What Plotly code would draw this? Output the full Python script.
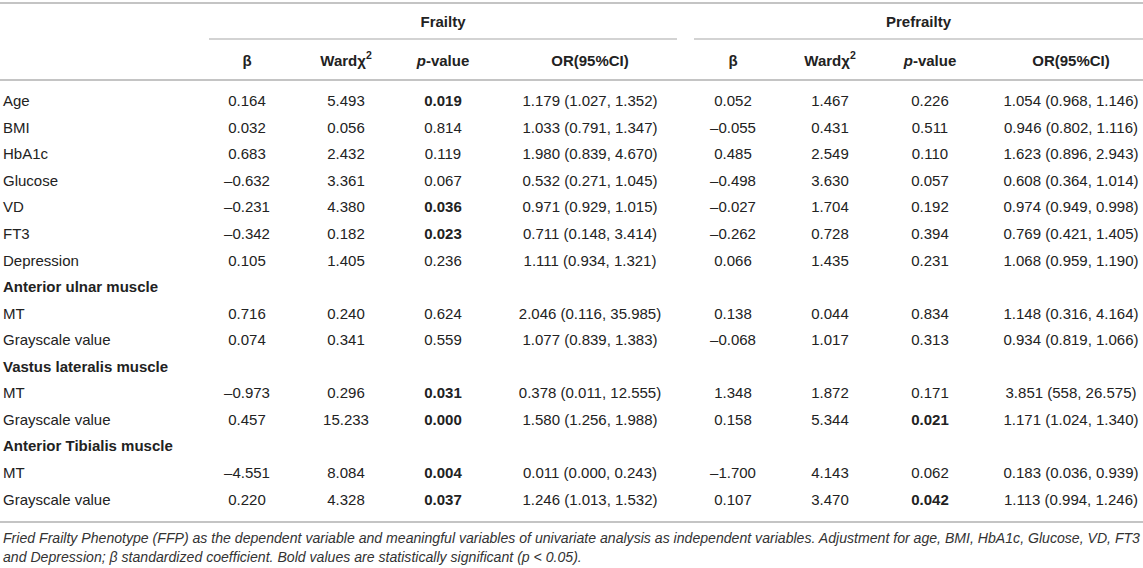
import plotly.graph_objects as go

# ---------------- data ----------------
row_labels = ["Age", "BMI", "HbA1c", "Glucose", "VD", "FT3", "Depression",
              "Anterior ulnar muscle", "MT", "Grayscale value",
              "Vastus lateralis muscle", "MT", "Grayscale value",
              "Anterior Tibialis muscle", "MT", "Grayscale value"]
section_rows = ["Anterior ulnar muscle", "Vastus lateralis muscle", "Anterior Tibialis muscle"]

frailty_beta = [0.164, 0.032, 0.683, -0.632, -0.231, -0.342, 0.105, None,
                0.716, 0.074, None, -0.973, 0.457, None, -4.551, 0.220]
frailty_wald = [5.493, 0.056, 2.432, 3.361, 4.380, 0.182, 1.405, None,
                0.240, 0.341, None, 0.296, 15.233, None, 8.084, 4.328]
frailty_p = [0.019, 0.814, 0.119, 0.067, 0.036, 0.023, 0.236, None,
             0.624, 0.559, None, 0.031, 0.000, None, 0.004, 0.037]
frailty_or = ["1.179 (1.027, 1.352)", "1.033 (0.791, 1.347)", "1.980 (0.839, 4.670)",
              "0.532 (0.271, 1.045)", "0.971 (0.929, 1.015)", "0.711 (0.148, 3.414)",
              "1.111 (0.934, 1.321)", None, "2.046 (0.116, 35.985)", "1.077 (0.839, 1.383)",
              None, "0.378 (0.011, 12.555)", "1.580 (1.256, 1.988)", None,
              "0.011 (0.000, 0.243)", "1.246 (1.013, 1.532)"]

prefrailty_beta = [0.052, -0.055, 0.485, -0.498, -0.027, -0.262, 0.066, None,
                   0.138, -0.068, None, 1.348, 0.158, None, -1.700, 0.107]
prefrailty_wald = [1.467, 0.431, 2.549, 3.630, 1.704, 0.728, 1.435, None,
                   0.044, 1.017, None, 1.872, 5.344, None, 4.143, 3.470]
prefrailty_p = [0.226, 0.511, 0.110, 0.057, 0.192, 0.394, 0.231, None,
                0.834, 0.313, None, 0.171, 0.021, None, 0.062, 0.042]
prefrailty_or = ["1.054 (0.968, 1.146)", "0.946 (0.802, 1.116)", "1.623 (0.896, 2.943)",
                 "0.608 (0.364, 1.014)", "0.974 (0.949, 0.998)", "0.769 (0.421, 1.405)",
                 "1.068 (0.959, 1.190)", None, "1.148 (0.316, 4.164)", "0.934 (0.819, 1.066)",
                 None, "3.851 (558, 26.575)", "1.171 (1.024, 1.340)", None,
                 "0.183 (0.036, 0.939)", "1.113 (0.994, 1.246)"]

group_titles = ["Frailty", "Prefrailty"]
column_titles = ["β", "Wardχ<sup>2</sup>", "<i>p</i>-value", "OR(95%CI)"]
significance = 0.05

footnote_lines = [
    "Fried Frailty Phenotype (FFP) as the dependent variable and meaningful variables of univariate analysis as independent variables. Adjustment for age, BMI, HbA1c, Glucose, VD, FT3",
    "and Depression; β standardized coefficient. Bold values are statistically significant (p < 0.05).",
]

# ---------------- layout constants ----------------
W, H = 1143, 568
FONT = "Liberation Sans, Arial, Helvetica, sans-serif"
TXT = "#222222"
LINE = "#c4c4c4"
FS = 15
row_y0, row_step = 102.5, 26.55
label_x = 3
frailty_x = [247, 346, 443, 590]
prefrailty_x = [733, 830, 930, 1071]
group_y, header_y = 23, 62


def fmt(v):
    return f"{v:.3f}".replace("-", "–")


def fmt_p(v):
    s = fmt(v)
    return f"<b>{s}</b>" if v < significance else s


row_ys = [row_y0 + i * row_step for i in range(len(row_labels))]

fig = go.Figure()


def add_text(xs, ys, texts, pos="middle center", size=FS, color=TXT):
    fig.add_trace(go.Scatter(
        x=xs, y=ys, text=texts, mode="text", textposition=pos,
        textfont=dict(family=FONT, size=size, color=color),
        hoverinfo="skip", showlegend=False, cliponaxis=False))


def add_column(x, values, formatter):
    pts = [(y, formatter(v)) for y, v in zip(row_ys, values) if v is not None]
    add_text([x] * len(pts), [p[0] for p in pts], [p[1] for p in pts])


# row labels
add_text([label_x] * len(row_labels), row_ys,
         [f"<b>{l}</b>" if l in section_rows else l for l in row_labels],
         pos="middle right")

# value columns
for xs, beta, wald, p, orr in [
        (frailty_x, frailty_beta, frailty_wald, frailty_p, frailty_or),
        (prefrailty_x, prefrailty_beta, prefrailty_wald, prefrailty_p, prefrailty_or)]:
    add_column(xs[0], beta, fmt)
    add_column(xs[1], wald, fmt)
    add_column(xs[2], p, fmt_p)
    add_column(xs[3], orr, str)
    add_text(xs, [header_y] * 4, [f"<b>{t}</b>" for t in column_titles])

# group titles
group_spans = [(209, 677), (694, W)]
add_text([(a + b) / 2 for a, b in group_spans], [group_y] * 2,
         [f"<b>{g}</b>" for g in group_titles])

# footnote
add_text([label_x] * 2, [539, 558], [f"<i>{t}</i>" for t in footnote_lines],
         pos="middle right", size=14.1, color="#333333")

shapes = [
    dict(type="line", x0=0, x1=W, y0=3, y1=3, line=dict(color=LINE, width=2)),
    dict(type="line", x0=0, x1=W, y0=80, y1=80, line=dict(color=LINE, width=2)),
    dict(type="line", x0=0, x1=W, y0=522, y1=522, line=dict(color=LINE, width=2)),
]
for a, b in group_spans:
    shapes.append(dict(type="line", x0=a, x1=b, y0=39, y1=39,
                       line=dict(color=LINE, width=1.3)))
for s in shapes:
    s.update(xref="x", yref="y", layer="below")

fig.update_layout(
    width=W, height=H, margin=dict(l=0, r=0, t=0, b=0),
    paper_bgcolor="white", plot_bgcolor="white",
    xaxis=dict(range=[0, W], visible=False, fixedrange=True),
    yaxis=dict(range=[H, 0], visible=False, fixedrange=True),
    shapes=shapes,
)

fig.write_html(
    "out.html",
    config={"displayModeBar": False},
    post_script="document.body.style.margin='0';document.body.style.overflow='hidden';",
)
